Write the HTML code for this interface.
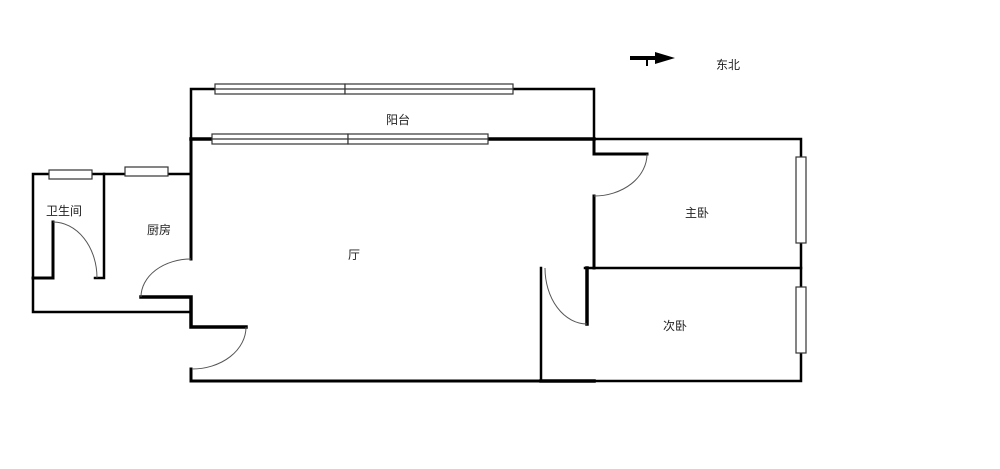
<!DOCTYPE html>
<html><head><meta charset="utf-8"><style>
html,body{margin:0;padding:0;background:#fff;}
svg{display:block;}
text{font-family:"Liberation Sans","Noto Sans CJK SC",sans-serif;font-size:12px;fill:#222;}
</style></head><body>
<svg width="1000" height="469" viewBox="0 0 1000 469" xmlns="http://www.w3.org/2000/svg">
<g stroke="#000" fill="none" stroke-linecap="square">
<!-- balcony -->
<path d="M191 139 V89 H594 V139" stroke-width="2.5"/>
<path d="M191 139 H594" stroke-width="3.5"/>
<!-- living left wall -->
<path d="M191 139 V259" stroke-width="3"/>
<path d="M141 297 H191 V327 H246" stroke-width="3.5"/>
<path d="M191 369 V381 H541" stroke-width="3"/>
<path d="M541 381 H594" stroke-width="3.5"/>
<path d="M594 381 H801 V139 H594" stroke-width="2.5"/>
<!-- kitchen / bath -->
<path d="M191 174 H33 V312 H191" stroke-width="2.5"/>
<path d="M104 174 V278 H95" stroke-width="2.5"/>
<path d="M33 278 H53 V222" stroke-width="3"/>
<!-- master bedroom door / wall -->
<path d="M594 139 V154 H647" stroke-width="3"/>
<path d="M594 196 V268" stroke-width="3"/>
<path d="M585 268 H801" stroke-width="2.5"/>
<path d="M587 268 V324" stroke-width="3.5"/>
<path d="M541 268 V381" stroke-width="2.5"/>
</g>
<!-- door arcs -->
<g stroke="#555" fill="none" stroke-width="1">
<path d="M191 259 A50 38 0 0 0 141 297"/>
<path d="M246 327 A54 42 0 0 1 192 369"/>
<path d="M53 222 A44 56 0 0 1 97 278"/>
<path d="M647 154 A53 42 0 0 1 594 196"/>
<path d="M545 268 A42 56 0 0 0 587 324"/>
</g>
<!-- windows -->
<g stroke="#333" fill="#fff" stroke-width="1.2">
<rect x="215" y="84" width="130" height="10"/><rect x="345" y="84" width="168" height="10"/>
<line x1="215" y1="89" x2="513" y2="89"/>
<rect x="212" y="134" width="136" height="10"/><rect x="348" y="134" width="140" height="10"/>
<line x1="212" y1="139" x2="488" y2="139"/>
<rect x="49" y="170" width="43" height="9"/>
<rect x="125" y="167" width="43" height="9"/>
<rect x="796" y="157" width="10" height="86"/>
<rect x="796" y="287" width="10" height="66"/>
</g>
<!-- compass -->
<path d="M630 56 H655 V52 L675 58 L655 64 V60 H630 Z" fill="#000"/>
<rect x="646" y="58" width="2" height="8" fill="#000"/>
<text x="716" y="69">东北</text>
<text x="386" y="124">阳台</text>
<text x="46" y="215">卫生间</text>
<text x="147" y="234">厨房</text>
<text x="348" y="259">厅</text>
<text x="685" y="217">主卧</text>
<text x="663" y="330">次卧</text>
</svg>
</body></html>
